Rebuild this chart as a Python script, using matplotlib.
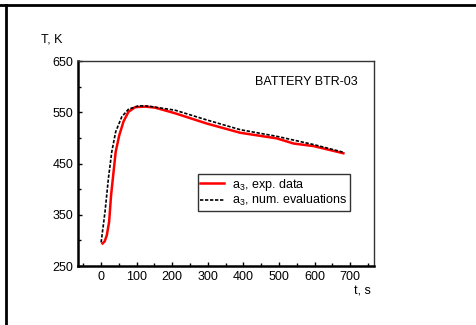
import matplotlib
matplotlib.use("Agg")
import matplotlib.pyplot as plt
from matplotlib.lines import Line2D
from matplotlib.ticker import MultipleLocator

plt.rcParams['font.family'] = ['Liberation Sans', 'DejaVu Sans']
plt.rcParams['mathtext.fontset'] = 'custom'
plt.rcParams['mathtext.rm'] = 'Liberation Sans'
plt.rcParams['mathtext.it'] = 'Liberation Sans'

# experimental data (a3)
t_exp = [4, 10, 16, 22.5, 28, 35, 41, 51, 63, 77, 96, 124, 152, 208, 297, 391, 466, 494, 541, 597, 681]
T_exp = [294, 298, 310, 336, 388, 434, 473, 505, 532, 551, 560, 561, 559, 548, 528, 510, 502, 499, 489, 484, 470]
# numerical evaluations (a3)
t_num = [0, 11, 20.5, 30, 41, 58, 77, 105, 133, 170, 208, 297, 391, 494, 597, 681]
T_num = [296, 356, 421, 473, 512, 541, 556, 562.5, 562, 558, 554, 535, 516, 503, 487, 472]

x_ticks = [0, 100, 200, 300, 400, 500, 600, 700]
y_ticks = [250, 350, 450, 550, 650]

fig = plt.figure(figsize=(4.77, 3.25), dpi=100)
ax = fig.add_axes([0.1635, 0.1815, 0.784 - 0.1635, 0.8123 - 0.1815])

ax.plot(t_exp, T_exp, color='#ff0000', lw=1.8, label=r'a$_3$, exp. data')
ax.plot(t_num, T_num, color='black', lw=1.2, linestyle=(0, (2, 1)), label=r'a$_3$, num. evaluations')

ax.set_xlim(-65, 767)
ax.set_ylim(250, 650)
ax.set_xticks(x_ticks)
ax.set_yticks(y_ticks)
ax.xaxis.set_minor_locator(MultipleLocator(50))
ax.yaxis.set_minor_locator(MultipleLocator(50))
ax.tick_params(which='both', direction='in', labelsize=9, width=1, colors='black')
ax.tick_params(which='major', length=3)
ax.tick_params(which='minor', length=2)

for s in ['left', 'bottom']:
    ax.spines[s].set_linewidth(1.8)
    ax.spines[s].set_color('black')
for s in ['top', 'right']:
    ax.spines[s].set_linewidth(1.0)
    ax.spines[s].set_color('#333333')

ax.text(0.945, 0.90, 'BATTERY BTR-03', transform=ax.transAxes, ha='right', va='center', fontsize=9)

fig.text(41 / 477, 1 - 40 / 325, 'T, K', ha='left', va='center', fontsize=9)
fig.text(371 / 477, 1 - 291 / 325, 't, s', ha='right', va='center', fontsize=9)

leg = ax.legend(loc='upper left', bbox_to_anchor=((198 - 78) / 296, 1 - (174 - 61) / 205),
                fontsize=9, frameon=True, fancybox=False, handlelength=1.9,
                borderpad=0.2, labelspacing=0.05, handletextpad=0.6, borderaxespad=0)
leg.get_frame().set_edgecolor('black')
leg.get_frame().set_linewidth(1.0)

# figure frame lines (top and left)
fig.add_artist(Line2D([0, 1], [1 - 5 / 325, 1 - 5 / 325], transform=fig.transFigure, color='black', lw=2))
fig.add_artist(Line2D([6 / 477, 6 / 477], [0, 1 - 5 / 325], transform=fig.transFigure, color='black', lw=2))

fig.savefig('out.png', dpi=100)
